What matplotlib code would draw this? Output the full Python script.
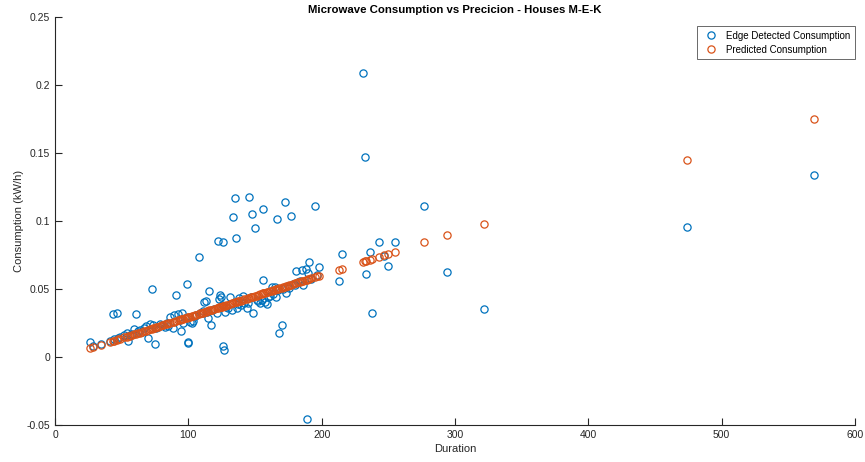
import matplotlib
matplotlib.use("Agg")
import matplotlib.pyplot as plt

plt.rcParams['font.family'] = ['Liberation Sans', 'DejaVu Sans']

duration = [26.5, 28.75, 34.5, 41.0, 43.25, 44.5, 46.25, 47.5, 49.0, 52.0,
            54.0, 54.75, 56.0, 58.0, 59.0, 60.5, 62.0, 63.5, 65.0, 66.5,
            68.0, 69.75, 71.25, 72.5, 73.75, 74.75, 76.0, 77.5, 79.0, 80.5,
            81.25, 82.5, 84.0, 85.0, 86.5, 88.25, 89.5, 90.75, 92.5, 93.5,
            94.5, 95.0, 96.0, 97.5, 98.75, 99.5, 100.0, 101.25, 102.5, 103.75,
            105.0, 106.0, 107.75, 109.0, 110.0, 111.0, 112.0, 113.0, 113.75, 114.5,
            115.75, 117.0, 118.0, 119.5, 121.25, 122.5, 123.0, 123.75, 124.5, 125.25,
            126.0, 126.25, 126.75, 127.5, 128.5, 130.0, 131.25, 132.5, 133.75, 135.0,
            135.75, 136.25, 137.5, 138.25, 139.5, 140.75, 142.0, 143.75, 144.5, 145.7,
            146.75, 147.5, 148.75, 150.0, 151.25, 152.5, 153.75, 155.0, 156.0, 156.25,
            157.5, 158.75, 160.0, 161.25, 162.5, 163.75, 165.0, 165.75, 166.25, 167.5,
            168.25, 170.0, 171.25, 172.3, 173.0, 174.5, 175.75, 177.0, 178.5, 180.0,
            181.0, 182.5, 183.75, 185.0, 186.25, 188.0, 188.75, 189.5, 190.7, 192.0,
            194.8, 196.5, 198.0, 213.0, 215.25, 231.0, 232.5, 233.5, 236.0, 238.0,
            243.0, 246.75, 249.5, 255.0, 277.0, 294.0, 321.5, 474.0, 569.25]

edge_detected = [0.0113, 0.0080, 0.0095, 0.0120, 0.0314, 0.0130, 0.0326, 0.0140, 0.0150, 0.0160,
                 0.0176, 0.0120, 0.0165, 0.0170, 0.0203, 0.0318, 0.0190, 0.0200, 0.0185, 0.0210,
                 0.0230, 0.0137, 0.0243, 0.0498, 0.0235, 0.0098, 0.0215, 0.0223, 0.0240, 0.0235,
                 0.0235, 0.0223, 0.0250, 0.0228, 0.0296, 0.0215, 0.0309, 0.0454, 0.0316, 0.0270,
                 0.0191, 0.0321, 0.0248, 0.0285, 0.0537, 0.0113, 0.0105, 0.0260, 0.0248, 0.0267,
                 0.0300, 0.0310, 0.0737, 0.0320, 0.0321, 0.0335, 0.0407, 0.0414, 0.0333, 0.0284,
                 0.0483, 0.0233, 0.0345, 0.0350, 0.0321, 0.0855, 0.0426, 0.0456, 0.0443, 0.0382,
                 0.0843, 0.0081, 0.0051, 0.0333, 0.0370, 0.0358, 0.0443, 0.0346, 0.1030, 0.1167,
                 0.0877, 0.0358, 0.0390, 0.0431, 0.0380, 0.0449, 0.0400, 0.0358, 0.0395, 0.1180,
                 0.0443, 0.1050, 0.0326, 0.0951, 0.0419, 0.0410, 0.0395, 0.0420, 0.1086, 0.0566,
                 0.0407, 0.0387, 0.0440, 0.0450, 0.0517, 0.0460, 0.0517, 0.0443, 0.1017, 0.0490,
                 0.0174, 0.0233, 0.0500, 0.1137, 0.0468, 0.0520, 0.0510, 0.1039, 0.0540, 0.0529,
                 0.0635, 0.0550, 0.0560, 0.0640, 0.0529, 0.0650, -0.0456, 0.0620, 0.0698, 0.0570,
                 0.1108, 0.0600, 0.0660, 0.0561, 0.0755, 0.2085, 0.1468, 0.0610, 0.0772, 0.0321,
                 0.0843, 0.0745, 0.0667, 0.0843, 0.1108, 0.0627, 0.0353, 0.0956, 0.1340]

predicted = [0.0065, 0.0072, 0.0090, 0.0110, 0.0117, 0.0121, 0.0126, 0.0130, 0.0135, 0.0144,
             0.0150, 0.0153, 0.0157, 0.0163, 0.0166, 0.0171, 0.0175, 0.0180, 0.0185, 0.0189,
             0.0194, 0.0199, 0.0204, 0.0208, 0.0212, 0.0215, 0.0219, 0.0223, 0.0228, 0.0233,
             0.0235, 0.0239, 0.0243, 0.0247, 0.0251, 0.0257, 0.0260, 0.0264, 0.0270, 0.0273,
             0.0276, 0.0278, 0.0281, 0.0285, 0.0289, 0.0291, 0.0293, 0.0297, 0.0301, 0.0305,
             0.0309, 0.0312, 0.0317, 0.0321, 0.0324, 0.0327, 0.0330, 0.0333, 0.0336, 0.0338,
             0.0342, 0.0346, 0.0349, 0.0353, 0.0359, 0.0363, 0.0364, 0.0367, 0.0369, 0.0371,
             0.0374, 0.0374, 0.0376, 0.0378, 0.0381, 0.0386, 0.0390, 0.0394, 0.0398, 0.0402,
             0.0404, 0.0405, 0.0409, 0.0412, 0.0415, 0.0419, 0.0423, 0.0429, 0.0431, 0.0435,
             0.0438, 0.0440, 0.0444, 0.0448, 0.0452, 0.0456, 0.0460, 0.0464, 0.0467, 0.0467,
             0.0471, 0.0475, 0.0479, 0.0483, 0.0487, 0.0491, 0.0495, 0.0497, 0.0498, 0.0502,
             0.0505, 0.0510, 0.0514, 0.0517, 0.0519, 0.0524, 0.0528, 0.0532, 0.0536, 0.0541,
             0.0544, 0.0549, 0.0553, 0.0556, 0.0560, 0.0566, 0.0568, 0.0570, 0.0574, 0.0578,
             0.0587, 0.0592, 0.0597, 0.0643, 0.0650, 0.0699, 0.0704, 0.0707, 0.0715, 0.0721,
             0.0736, 0.0748, 0.0756, 0.0774, 0.0842, 0.0894, 0.0980, 0.1452, 0.1748]

xticks = [0, 100, 200, 300, 400, 500, 600]
yticks = [-0.05, 0, 0.05, 0.1, 0.15, 0.2, 0.25]
ytick_labels = ['-0.05', '0', '0.05', '0.1', '0.15', '0.2', '0.25']

fig = plt.figure(figsize=(8.65, 4.62), dpi=100)
ax = fig.add_axes([0.0636, 0.0801, 0.9248, 0.8831])

ax.plot(duration, edge_detected, linestyle='none', marker='o', markersize=5.2,
        markerfacecolor='none', markeredgecolor='#0072BD', markeredgewidth=0.9,
        label='Edge Detected Consumption')
ax.plot(duration, predicted, linestyle='none', marker='o', markersize=5.2,
        markerfacecolor='none', markeredgecolor='#D95319', markeredgewidth=0.9,
        label='Predicted Consumption')

ax.set_xlim(0, 600)
ax.set_ylim(-0.05, 0.25)
ax.set_xticks(xticks)
ax.set_xticklabels([str(t) for t in xticks])
ax.set_yticks(yticks)
ax.set_yticklabels(ytick_labels)
ax.tick_params(direction='in', length=5, width=0.8, labelsize=7.5, colors='#262626')
for s in ['top', 'right']:
    ax.spines[s].set_visible(False)
for s in ['left', 'bottom']:
    ax.spines[s].set_color('#262626')
    ax.spines[s].set_linewidth(0.8)

ax.set_title('Microwave Consumption vs Precicion - Houses M-E-K', fontsize=8.2,
             fontweight='bold', pad=3)
ax.set_xlabel('Duration', fontsize=8, labelpad=3, color='#262626')
ax.set_ylabel('Consumption (kW/h)', fontsize=8, labelpad=2, color='#262626')

leg = ax.legend(loc='upper right', bbox_to_anchor=(1.0, 0.977), borderaxespad=0,
                fontsize=7, frameon=True, fancybox=False, edgecolor='#262626',
                handletextpad=0.6, borderpad=0.45, labelspacing=0.4, handlelength=2.0)
leg.get_frame().set_linewidth(0.6)

fig.savefig('out.png', dpi=100)
